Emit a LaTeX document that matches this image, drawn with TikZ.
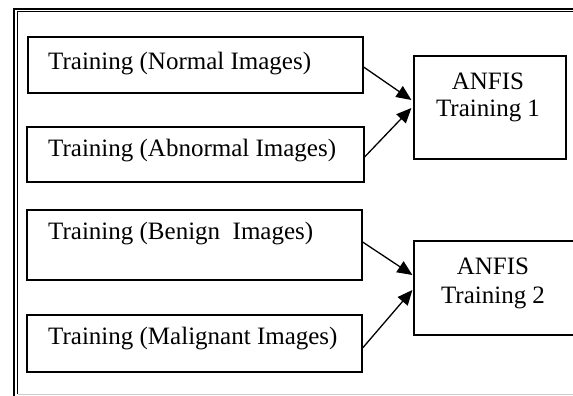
\documentclass[tikz,border=0pt]{standalone}
\usepackage{fontspec}
\setmainfont{Liberation Serif}
\usetikzlibrary{arrows.meta, positioning}

\begin{document}
\begin{tikzpicture}[x=1pt, y=-1pt,
    box/.style={draw, line width=1.2pt, inner sep=0pt},
    txt/.style={anchor=west, inner sep=0pt, font=\fontsize{25}{29}\selectfont},
    arr/.style={-{Triangle[length=15pt,width=13pt]}, line width=1.3pt}]
        \useasboundingbox (0,0) rectangle (573,396);
        \clip (0,0) rectangle (573,396);

        % Frame
        \draw[line width=2.2pt] (14,420) -- (14,8.7) -- (600,8.7);
        \draw[line width=1.2pt] (17.7,394) -- (17.7,11.5) -- (600,11.5);
        \draw[line width=1pt, gray!40] (17.7,394.5) -- (600,394.5);

        % Training boxes
        \node[box, minimum width=335pt, minimum height=56pt] (normal) at (195.5,65) {};
        \node[box, minimum width=337pt, minimum height=55pt] (abnormal) at (195.5,154.5) {};
        \node[box, minimum width=335pt, minimum height=70pt] (benign) at (194.5,245) {};
        \node[box, minimum width=335pt, minimum height=57pt] (malignant) at (194.5,343.5) {};

        \node[txt] (normaltxt) at (48,64) {Training (Normal Images)};
        \node[txt] (abnormaltxt) at (48,151) {Training (Abnormal Images)};
        \node[txt] (benigntxt) at (48,234) {Training (Benign\ \ Images)};
        \node[txt] (malignanttxt) at (48,339) {Training (Malignant Images)};

        % ANFIS boxes
        \node[box, minimum width=152pt, minimum height=103pt] (anfis1) at (490,107.5) {};
        \node[box, minimum width=164pt, minimum height=94pt] (anfis2) at (496,288) {};

        \node[txt, anchor=center] (anfis1a) at (488,81) {ANFIS};
        \node[txt, anchor=center] (anfis1b) at (488,111) {Training 1};
        \node[txt, anchor=center] (anfis2a) at (493,266) {ANFIS};
        \node[txt, anchor=center] (anfis2b) at (493,298) {Training 2};

        % Arrows
        \draw[arr] ([yshift=-2pt]normal.east) -- ([xshift=-2pt,yshift=7.5pt]anfis1.west);
        \draw[arr] ([yshift=-2.5pt]abnormal.east) -- ([xshift=-2pt,yshift=-0.5pt]anfis1.west);
        \draw[arr] ([yshift=3pt]benign.east) -- ([xshift=-1pt,yshift=13pt]anfis2.west);
        \draw[arr] ([yshift=-4.5pt]malignant.east) -- ([xshift=-1pt,yshift=-2pt]anfis2.west);
    \end{tikzpicture}
\end{document}
